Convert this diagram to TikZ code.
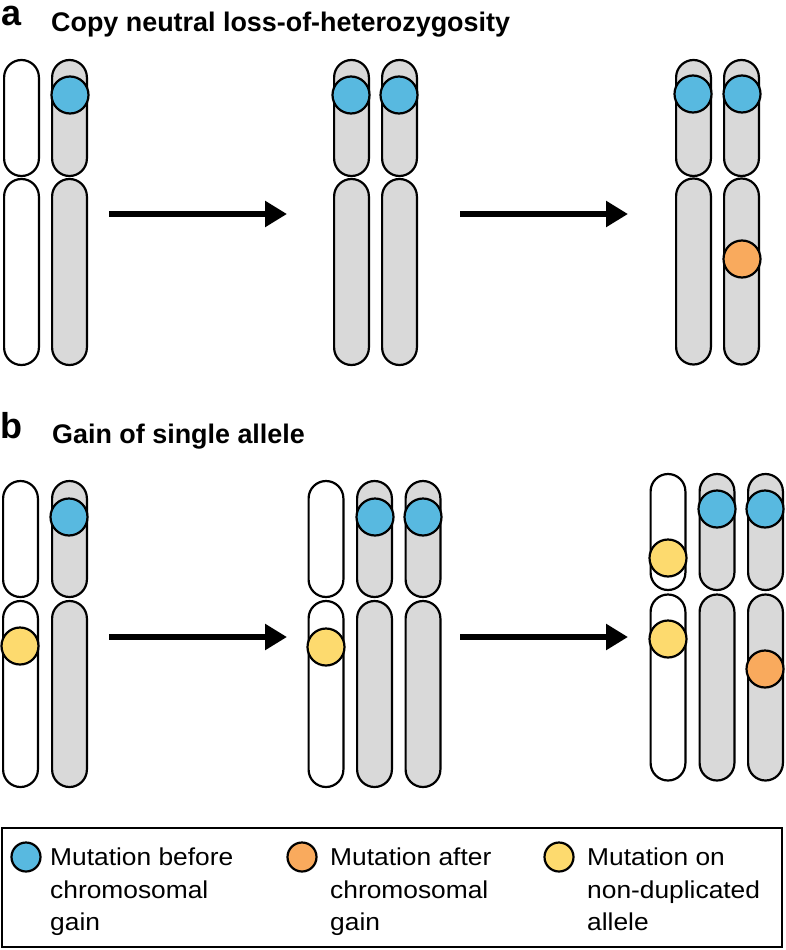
\documentclass[tikz,border=0pt]{standalone}
\usepackage{fontspec}
\setmainfont{Liberation Sans}
\newfontfamily\legfont[FakeStretch=1.08]{Liberation Sans}
\usetikzlibrary{arrows.meta}
\definecolor{chrgrey}{HTML}{D9D9D9}
\definecolor{mutblue}{HTML}{58B9E0}
\definecolor{mutorange}{HTML}{F9AA5D}
\definecolor{mutyellow}{HTML}{FDDA6E}
\tikzset{
  arm/.style={draw=black, line width=2.2pt, rectangle, rounded corners=17.4pt,
    minimum width=34.8pt, inner sep=0pt},
  whitearm/.style={arm, fill=white},
  greyarm/.style={arm, fill=chrgrey},
  toparm/.style={minimum height=116pt},
  botarm/.style={minimum height=186pt},
  mut/.style={circle, draw=black, line width=2.2pt, minimum size=37pt, inner sep=0pt},
  legmut/.style={circle, draw=black, line width=2.2pt, minimum size=29pt, inner sep=0pt},
  bigarrow/.style={line width=6.5pt, -{Triangle[length=22pt,width=25pt]}},
  paneltag/.style={anchor=base west, inner sep=0pt, font=\fontsize{36}{40}\selectfont\bfseries},
  paneltitle/.style={anchor=base west, inner sep=0pt, font=\fontsize{26.9}{30}\selectfont\bfseries},
  legtext/.style={anchor=base west, inner sep=0pt, font=\legfont\fontsize{24.4}{30}\selectfont},
}
\begin{document}
\begin{tikzpicture}[x=1pt, y=-1pt]
\useasboundingbox (0,0) rectangle (785,950);

% ---- titles ----
\node[paneltag] (taga) at (1,25.5) {a};
\node[paneltitle] (titlea) at (51,32) {Copy neutral loss-of-heterozygosity};
\node[paneltag] (tagb) at (0,438) {b};
\node[paneltitle] (titleb) at (52,443) {Gain of single allele};

% ---- panel a, left ----
\node[whitearm, toparm] (a1wt) at (21.5,118) {};
\node[whitearm, botarm] (a1wb) at (21.5,272) {};
\node[greyarm, toparm] (a1gt) at (69.5,118) {};
\node[greyarm, botarm] (a1gb) at (69.5,272) {};
\node[mut, fill=mutblue] (a1m) at (70,95) {};

% ---- panel a, middle ----
\node[greyarm, toparm] (a2gt) at (351.5,118) {};
\node[greyarm, botarm] (a2gb) at (351.5,272) {};
\node[greyarm, toparm] (a2ht) at (399.5,118) {};
\node[greyarm, botarm] (a2hb) at (399.5,272) {};
\node[mut, fill=mutblue] (a2m1) at (351,95) {};
\node[mut, fill=mutblue] (a2m2) at (399,95) {};

% ---- panel a, right ----
\node[greyarm, toparm] (a3gt) at (693.5,118) {};
\node[greyarm, botarm] (a3gb) at (693.5,271.5) {};
\node[greyarm, toparm] (a3ht) at (741.5,118) {};
\node[greyarm, botarm] (a3hb) at (741.5,271.5) {};
\node[mut, fill=mutblue] (a3m1) at (693,94) {};
\node[mut, fill=mutblue] (a3m2) at (742,94) {};
\node[mut, fill=mutorange] (a3m3) at (742,259) {};

% ---- panel a, arrows ----
\coordinate (a12s) at (109,214);
\coordinate (a12e) at (287,214);
\coordinate (a23s) at (460,214);
\coordinate (a23e) at (628,214);
\draw[bigarrow] (a12s) -- (a12e);
\draw[bigarrow] (a23s) -- (a23e);

% ---- panel b, left ----
\node[whitearm, toparm] (b1wt) at (20.5,539) {};
\node[whitearm, botarm] (b1wb) at (20.5,694) {};
\node[greyarm, toparm] (b1gt) at (69.5,539) {};
\node[greyarm, botarm] (b1gb) at (69.5,694) {};
\node[mut, fill=mutblue] (b1m1) at (69,517) {};
\node[mut, fill=mutyellow] (b1m2) at (20,646) {};

% ---- panel b, middle ----
\node[whitearm, toparm] (b2wt) at (326,539) {};
\node[whitearm, botarm] (b2wb) at (326,694) {};
\node[greyarm, toparm] (b2gt) at (374.5,539) {};
\node[greyarm, botarm] (b2gb) at (374.5,694) {};
\node[greyarm, toparm] (b2ht) at (423,539) {};
\node[greyarm, botarm] (b2hb) at (423,694) {};
\node[mut, fill=mutblue] (b2m1) at (375,517) {};
\node[mut, fill=mutblue] (b2m2) at (423,517) {};
\node[mut, fill=mutyellow] (b2m3) at (326,647) {};

% ---- panel b, right ----
\node[whitearm, toparm] (b3wt) at (668,532) {};
\node[whitearm, botarm] (b3wb) at (668,687.5) {};
\node[greyarm, toparm] (b3gt) at (717,532) {};
\node[greyarm, botarm] (b3gb) at (717,687.5) {};
\node[greyarm, toparm] (b3ht) at (765.5,532) {};
\node[greyarm, botarm] (b3hb) at (765.5,687.5) {};
\node[mut, fill=mutblue] (b3m1) at (717,509) {};
\node[mut, fill=mutblue] (b3m2) at (765,509) {};
\node[mut, fill=mutyellow] (b3m3) at (668,558) {};
\node[mut, fill=mutyellow] (b3m4) at (668,639) {};
\node[mut, fill=mutorange] (b3m5) at (765,669) {};

% ---- panel b, arrows ----
\coordinate (b12s) at (109,637);
\coordinate (b12e) at (287,637);
\coordinate (b23s) at (460,637);
\coordinate (b23e) at (628,637);
\draw[bigarrow] (b12s) -- (b12e);
\draw[bigarrow] (b23s) -- (b23e);

% ---- legend ----
\node[draw=black, line width=2pt, rectangle, inner sep=0pt, minimum width=780pt, minimum height=119pt] (legbox) at (392,887.5) {};
\node[legmut, fill=mutblue] (lgblue) at (26,857) {};
\node[legmut, fill=mutorange] (lgorange) at (302,857) {};
\node[legmut, fill=mutyellow] (lgyellow) at (559,857) {};

\node[legtext] (l1a) at (50,865) {Mutation before};
\node[legtext] (l1b) at (50,898) {chromosomal};
\node[legtext] (l1c) at (50,930) {gain};
\node[legtext] (l2a) at (330,865) {Mutation after};
\node[legtext] (l2b) at (330,898) {chromosomal};
\node[legtext] (l2c) at (330,930) {gain};
\node[legtext] (l3a) at (587,865) {Mutation on};
\node[legtext] (l3b) at (587,898) {non-duplicated};
\node[legtext] (l3c) at (587,930) {allele};
\end{tikzpicture}
\end{document}
